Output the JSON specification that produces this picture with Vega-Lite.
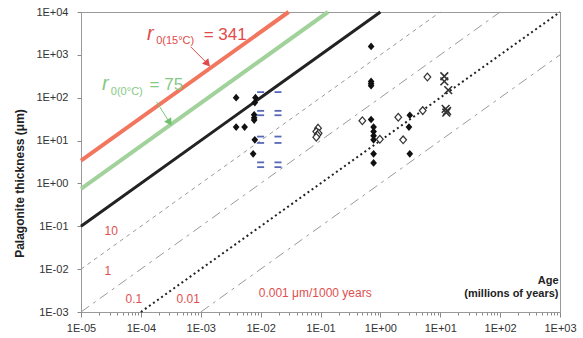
{
  "$schema": "https://vega.github.io/schema/vega-lite/v6.json",
  "autosize": {"type": "none"},
  "padding": {"left": 81, "top": 12, "right": 23, "bottom": 26},
  "width": 479,
  "height": 300,
  "background": "white",
  "config": {"font": "Liberation Sans", "view": {"stroke": "#9a9a9a", "strokeWidth": 1}},
  "datasets": {
    "lines": [
      {"rate": "341", "age": 1e-5, "thickness": 3.41}, {"rate": "341", "age": 0.02933, "thickness": 10000},
      {"rate": "75", "age": 1e-5, "thickness": 0.75}, {"rate": "75", "age": 0.1333, "thickness": 10000},
      {"rate": "10", "age": 1e-5, "thickness": 0.1}, {"rate": "10", "age": 1, "thickness": 10000},
      {"rate": "1", "age": 1e-5, "thickness": 0.01}, {"rate": "1", "age": 10, "thickness": 10000},
      {"rate": "0.1", "age": 1e-5, "thickness": 0.001}, {"rate": "0.1", "age": 100, "thickness": 10000},
      {"rate": "0.01", "age": 1e-4, "thickness": 0.001}, {"rate": "0.01", "age": 1000, "thickness": 10000},
      {"rate": "0.001", "age": 0.001, "thickness": 0.001}, {"rate": "0.001", "age": 1000, "thickness": 1000}
    ],
    "points": [
      {"type": "filled", "age": 0.0039, "thickness": 100},
      {"type": "filled", "age": 0.0082, "thickness": 100},
      {"type": "filled", "age": 0.0080, "thickness": 77},
      {"type": "filled", "age": 0.0078, "thickness": 40},
      {"type": "filled", "age": 0.0078, "thickness": 34},
      {"type": "filled", "age": 0.0078, "thickness": 30},
      {"type": "filled", "age": 0.0039, "thickness": 20.6},
      {"type": "filled", "age": 0.0054, "thickness": 20.6},
      {"type": "filled", "age": 0.0080, "thickness": 10.4},
      {"type": "filled", "age": 0.0075, "thickness": 4.9},
      {"type": "filled", "age": 0.70, "thickness": 1570},
      {"type": "filled", "age": 0.70, "thickness": 240},
      {"type": "filled", "age": 0.70, "thickness": 212},
      {"type": "filled", "age": 0.70, "thickness": 190},
      {"type": "filled", "age": 0.70, "thickness": 31},
      {"type": "filled", "age": 0.77, "thickness": 20.6},
      {"type": "filled", "age": 0.77, "thickness": 16.2},
      {"type": "filled", "age": 0.77, "thickness": 12.9},
      {"type": "filled", "age": 0.77, "thickness": 10.4},
      {"type": "filled", "age": 0.77, "thickness": 4.9},
      {"type": "filled", "age": 0.77, "thickness": 3.0},
      {"type": "filled", "age": 3.1, "thickness": 39},
      {"type": "filled", "age": 3.0, "thickness": 20.6},
      {"type": "filled", "age": 3.1, "thickness": 4.9},
      {"type": "open", "age": 0.091, "thickness": 19.5},
      {"type": "open", "age": 0.085, "thickness": 16.2},
      {"type": "open", "age": 0.093, "thickness": 14.8},
      {"type": "open", "age": 0.089, "thickness": 13.5},
      {"type": "open", "age": 0.085, "thickness": 12},
      {"type": "open", "age": 0.50, "thickness": 29},
      {"type": "open", "age": 0.98, "thickness": 10.7},
      {"type": "open", "age": 1.99, "thickness": 35},
      {"type": "open", "age": 2.4, "thickness": 10.4},
      {"type": "open", "age": 5.1, "thickness": 50},
      {"type": "open", "age": 6.1, "thickness": 303},
      {"type": "cross", "age": 11.7, "thickness": 316},
      {"type": "cross", "age": 11.7, "thickness": 240},
      {"type": "cross", "age": 13.6, "thickness": 150},
      {"type": "cross", "age": 12.3, "thickness": 55},
      {"type": "cross", "age": 13.0, "thickness": 49},
      {"type": "cross", "age": 12.6, "thickness": 45},
      {"type": "range", "age": 0.0100, "thickness": 135},
      {"type": "range", "age": 0.0100, "thickness": 49.4},
      {"type": "range", "age": 0.0100, "thickness": 39},
      {"type": "range", "age": 0.0100, "thickness": 12.4},
      {"type": "range", "age": 0.0100, "thickness": 8.8},
      {"type": "range", "age": 0.0100, "thickness": 3.1},
      {"type": "range", "age": 0.0100, "thickness": 2.4},
      {"type": "range", "age": 0.0195, "thickness": 135},
      {"type": "range", "age": 0.0195, "thickness": 49.4},
      {"type": "range", "age": 0.0195, "thickness": 39},
      {"type": "range", "age": 0.0195, "thickness": 12.4},
      {"type": "range", "age": 0.0195, "thickness": 8.8},
      {"type": "range", "age": 0.0195, "thickness": 3.1},
      {"type": "range", "age": 0.0195, "thickness": 2.4}
    ],
    "arrows": [
      {"which": "red", "age": 6.78e-4, "thickness": 1545, "age2": 1.30e-3, "thickness2": 620},
      {"which": "green", "age": 1.83e-4, "thickness": 80, "age2": 3.02e-4, "thickness2": 26.4}
    ],
    "heads": [
      {"which": "red", "age": 1.30e-3, "thickness": 620},
      {"which": "green", "age": 3.02e-4, "thickness": 26.4}
    ],
    "labels": [
      {"g": "r_red", "age": 1.27e-4, "thickness": 2255, "label": "r"},
      {"g": "sub_red", "age": 1.80e-4, "thickness": 1815, "label": "0(15°C)"},
      {"g": "eq_red", "age": 1.12e-3, "thickness": 2255, "label": "= 341"},
      {"g": "r_green", "age": 2.25e-5, "thickness": 153, "label": "r"},
      {"g": "sub_green", "age": 3.15e-5, "thickness": 117, "label": "0(0°C)"},
      {"g": "eq_green", "age": 1.40e-4, "thickness": 153, "label": "= 75"},
      {"g": "rate", "age": 2.47e-5, "thickness": 0.0627, "label": "10"},
      {"g": "rate", "age": 2.47e-5, "thickness": 0.00728, "label": "1"},
      {"g": "rate", "age": 5.55e-5, "thickness": 0.00161, "label": "0.1"},
      {"g": "rate", "age": 3.95e-4, "thickness": 0.00161, "label": "0.01"},
      {"g": "rate", "age": 9.29e-3, "thickness": 0.00223, "label": "0.001 μm/1000 years"}
    ]
  },
  "encoding": {
    "x": {
      "field": "age", "type": "quantitative",
      "scale": {"type": "log", "domain": [1e-5, 1000], "nice": false},
      "axis": {
        "values": [1e-5,2e-5,3e-5,4e-5,5e-5,6e-5,7e-5,8e-5,9e-5,1e-4,2e-4,3e-4,4e-4,5e-4,6e-4,7e-4,8e-4,9e-4,0.001,0.002,0.003,0.004,0.005,0.006,0.007,0.008,0.009,0.01,0.02,0.03,0.04,0.05,0.06,0.07,0.08,0.09,0.1,0.2,0.3,0.4,0.5,0.6,0.7,0.8,0.9,1,2,3,4,5,6,7,8,9,10,20,30,40,50,60,70,80,90,100,200,300,400,500,600,700,800,900,1000],
        "labelExpr": "abs(log(datum.value)/LN10 - round(log(datum.value)/LN10)) > 0.001 ? '' : '1E' + (round(log(datum.value)/LN10) < 0 ? '-' : '+') + (abs(round(log(datum.value)/LN10)) < 10 ? '0' : '') + abs(round(log(datum.value)/LN10))",
        "labelOverlap": false,
        "labelFlush": false,
        "labelFontSize": 11,
        "labelColor": "#333",
        "labelPadding": 5,
        "tickSize": {"condition": {"test": "abs(log(datum.value)/LN10 - round(log(datum.value)/LN10)) < 0.001", "value": 5}, "value": 3},
        "tickColor": "#888",
        "domainColor": "#999",
        "grid": false,
        "title": ["Age", "(millions of years)"],
        "titleFontSize": 11,
        "titleFontWeight": "bold",
        "titleColor": "#222",
        "titleAnchor": "end",
        "titleAlign": "right",
        "titleX": 477,
        "titleY": -29,
        "titleBaseline": "alphabetic",
        "titleLineHeight": 13
      }
    },
    "y": {
      "field": "thickness", "type": "quantitative",
      "scale": {"type": "log", "domain": [0.001, 10000], "nice": false},
      "axis": {
        "values": [0.001, 0.01, 0.1, 1, 10, 100, 1000, 10000],
        "labelExpr": "'1E' + (round(log(datum.value)/LN10) < 0 ? '-' : '+') + (abs(round(log(datum.value)/LN10)) < 10 ? '0' : '') + abs(round(log(datum.value)/LN10))",
        "labelFlush": false,
        "labelFontSize": 11,
        "labelColor": "#333",
        "labelPadding": 9,
        "tickSize": 4,
        "tickColor": "#888",
        "domainColor": "#999",
        "grid": false,
        "title": "Palagonite thickness (μm)",
        "titleFontSize": 12,
        "titleFontWeight": "bold",
        "titleColor": "#222",
        "titleAngle": -90,
        "titleX": -62,
        "titleY": 171,
        "titleAlign": "center",
        "titleBaseline": "middle"
      }
    }
  },
  "layer": [
    {"data": {"name": "lines"}, "transform": [{"filter": "datum.rate == '0.001'"}],
     "mark": {"type": "line", "color": "#9a9a9a", "strokeWidth": 1, "strokeDash": [10, 5, 3, 5]}, "encoding": {}},
    {"data": {"name": "lines"}, "transform": [{"filter": "datum.rate == '0.1'"}],
     "mark": {"type": "line", "color": "#9a9a9a", "strokeWidth": 1, "strokeDash": [10, 5, 3, 5]}, "encoding": {}},
    {"data": {"name": "lines"}, "transform": [{"filter": "datum.rate == '1'"}],
     "mark": {"type": "line", "color": "#9a9a9a", "strokeWidth": 1, "strokeDash": [4, 4]}, "encoding": {}},
    {"data": {"name": "lines"}, "transform": [{"filter": "datum.rate == '0.01'"}],
     "mark": {"type": "line", "color": "#222", "strokeWidth": 2, "strokeDash": [2, 3]}, "encoding": {}},
    {"data": {"name": "lines"}, "transform": [{"filter": "datum.rate == '10'"}],
     "mark": {"type": "line", "color": "#222", "strokeWidth": 3}, "encoding": {}},
    {"data": {"name": "lines"}, "transform": [{"filter": "datum.rate == '75'"}],
     "mark": {"type": "line", "color": "#a2d29b", "strokeWidth": 4}, "encoding": {}},
    {"data": {"name": "lines"}, "transform": [{"filter": "datum.rate == '341'"}],
     "mark": {"type": "line", "color": "#f2765e", "strokeWidth": 4}, "encoding": {}},
    {"data": {"name": "points"}, "transform": [{"filter": "datum.type == 'filled'"}],
     "mark": {"type": "point", "shape": "M0,-1.15L1,0L0,1.15L-1,0Z", "size": 45, "filled": true, "color": "#111", "opacity": 1}},
    {"data": {"name": "points"}, "transform": [{"filter": "datum.type == 'open'"}],
     "mark": {"type": "point", "shape": "M0,-1.15L1,0L0,1.15L-1,0Z", "size": 45, "filled": true, "fill": "white", "stroke": "#333", "strokeWidth": 1.2, "opacity": 1}},
    {"data": {"name": "points"}, "transform": [{"filter": "datum.type == 'cross'"}],
     "mark": {"type": "point", "shape": "M-1,-1L1,1M-1,1L1,-1", "size": 60, "filled": false, "stroke": "#333", "strokeWidth": 1.6, "opacity": 1}},
    {"data": {"name": "points"}, "transform": [{"filter": "datum.type == 'range'"}],
     "mark": {"type": "point", "shape": "M-1,0L1,0", "size": 49, "filled": false, "stroke": "#5868b8", "strokeWidth": 1.8, "opacity": 1}},
    {"data": {"name": "arrows"}, "transform": [{"filter": "datum.which == 'red'"}],
     "mark": {"type": "rule", "color": "#e24a4a", "strokeWidth": 1},
     "encoding": {"x2": {"field": "age2"}, "y2": {"field": "thickness2"}}},
    {"data": {"name": "arrows"}, "transform": [{"filter": "datum.which == 'green'"}],
     "mark": {"type": "rule", "color": "#7cc47c", "strokeWidth": 1},
     "encoding": {"x2": {"field": "age2"}, "y2": {"field": "thickness2"}}},
    {"data": {"name": "heads"}, "transform": [{"filter": "datum.which == 'red'"}],
     "mark": {"type": "point", "shape": "triangle-up", "size": 70, "angle": 138, "filled": true, "color": "#e24a4a", "opacity": 1}},
    {"data": {"name": "heads"}, "transform": [{"filter": "datum.which == 'green'"}],
     "mark": {"type": "point", "shape": "triangle-up", "size": 70, "angle": 147, "filled": true, "color": "#6fc06f", "opacity": 1}},
    {"data": {"name": "labels"}, "transform": [{"filter": "datum.g == 'r_red'"}],
     "mark": {"type": "text", "align": "left", "baseline": "alphabetic", "fontSize": 20, "fontStyle": "italic", "color": "#e24a4a"},
     "encoding": {"text": {"field": "label"}}},
    {"data": {"name": "labels"}, "transform": [{"filter": "datum.g == 'sub_red'"}],
     "mark": {"type": "text", "align": "left", "baseline": "alphabetic", "fontSize": 11, "color": "#e24a4a"},
     "encoding": {"text": {"field": "label"}}},
    {"data": {"name": "labels"}, "transform": [{"filter": "datum.g == 'eq_red'"}],
     "mark": {"type": "text", "align": "left", "baseline": "alphabetic", "fontSize": 17, "color": "#e24a4a"},
     "encoding": {"text": {"field": "label"}}},
    {"data": {"name": "labels"}, "transform": [{"filter": "datum.g == 'r_green'"}],
     "mark": {"type": "text", "align": "left", "baseline": "alphabetic", "fontSize": 20, "fontStyle": "italic", "color": "#86c986"},
     "encoding": {"text": {"field": "label"}}},
    {"data": {"name": "labels"}, "transform": [{"filter": "datum.g == 'sub_green'"}],
     "mark": {"type": "text", "align": "left", "baseline": "alphabetic", "fontSize": 11, "color": "#86c986"},
     "encoding": {"text": {"field": "label"}}},
    {"data": {"name": "labels"}, "transform": [{"filter": "datum.g == 'eq_green'"}],
     "mark": {"type": "text", "align": "left", "baseline": "alphabetic", "fontSize": 17, "color": "#86c986"},
     "encoding": {"text": {"field": "label"}}},
    {"data": {"name": "labels"}, "transform": [{"filter": "datum.g == 'rate'"}],
     "mark": {"type": "text", "align": "left", "baseline": "alphabetic", "fontSize": 12, "color": "#e05050"},
     "encoding": {"text": {"field": "label"}}}
  ]
}
